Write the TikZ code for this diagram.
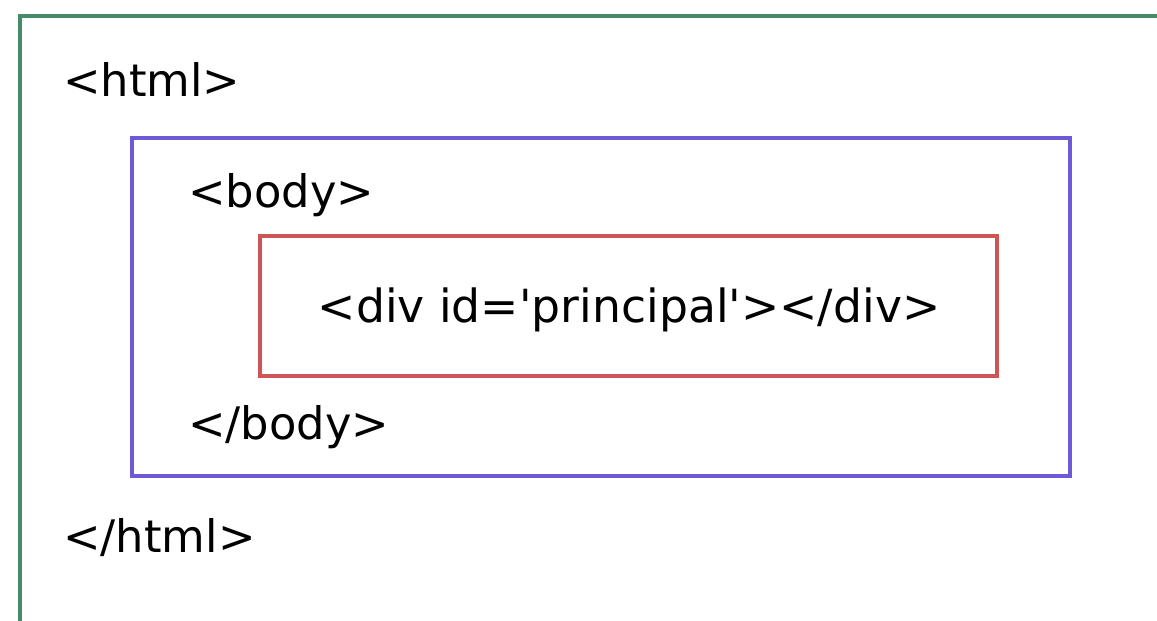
\documentclass[tikz,border=0pt]{standalone}
\usepackage{fontspec}
\setmainfont{DejaVu Sans}

\definecolor{pagegreen}{RGB}{70,140,105}
\definecolor{bodyblue}{RGB}{110,90,215}
\definecolor{divred}{RGB}{205,85,85}

\begin{document}
\begin{tikzpicture}[
    x=0.02cm, y=-0.02cm,
    tag/.style={font=\fontsize{25.5}{30}\selectfont, inner sep=0pt, anchor=base west},
    frame/.style={line width=2.2pt},
]

\useasboundingbox (0, 0) rectangle (1157, 621);

% html page (only top and left edges show)
\draw[pagegreen, frame] (20, 621) -- (20, 16) -- (1157, 16);
\node[tag] (htmlopen) at (63, 97) {<html>};
\node[tag] (htmlclose) at (63, 553) {</html>};

% body box
\draw[bodyblue, frame] (132, 138) rectangle (1070, 476);
\node[tag] (bodyopen) at (188, 208) {<body>};
\node[tag] (bodyclose) at (188, 440) {</body>};

% div box
\draw[divred, frame] (260, 236) rectangle (997, 376);
\node[tag, font=\fontsize{26}{30}\selectfont] (divtag) at (629, 323) [anchor=base]
    {<div id=\textquotesingle principal\textquotesingle></div>};

\end{tikzpicture}
\end{document}
